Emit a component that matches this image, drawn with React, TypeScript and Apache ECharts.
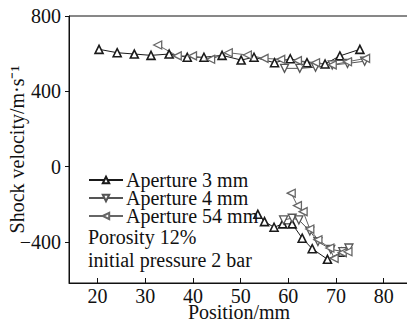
import React, { useEffect, useRef } from "react";
import * as echarts from "echarts";

const xTicks = [20, 30, 40, 50, 60, 70, 80];
const yTicks = [800, 400, 0, -400];

const a3UpperX = [20.3, 24.1, 27.7, 31.2, 35.0, 38.8, 42.3, 46.1, 50.1, 52.8, 57.1, 60.4, 63.9, 67.7, 70.8, 75.0];
const a3UpperY = [623, 605, 598, 591, 598, 581, 581, 591, 566, 581, 552, 573, 552, 545, 588, 623];
const a3LowerX = [53.6, 55.0, 57.0, 58.8, 60.8, 62.9, 65.0, 68.2, 71.2];
const a3LowerY = [-253, -292, -322, -304, -304, -380, -436, -492, -455];

const a4UpperX = [59.2, 62.4, 65.7, 69.2, 72.4, 76.0];
const a4UpperY = [522, 522, 528, 540, 548, 560];
const a4LowerX = [59.0, 60.8, 62.2, 64.5, 66.2, 68.9, 71.4, 72.7];
const a4LowerY = [-283, -274, -283, -342, -398, -439, -451, -432];

const a54UpperX = [32.6, 36.7, 39.9, 43.7, 47.4, 51.4, 54.9, 58.4, 61.9, 65.7, 69.2, 72.4, 76.2];
const a54UpperY = [646, 588, 588, 570, 605, 593, 575, 570, 563, 552, 540, 557, 575];
const a54LowerX = [60.6, 61.9, 63.1, 64.5, 66.2, 68.7, 69.6, 71.3, 72.5];
const a54LowerY = [-141, -207, -239, -331, -388, -432, -487, -457, -452];

const names = ["Aperture 3 mm", "Aperture 4 mm", "Aperture 54 mm"];
const notes = ["Porosity 12%", "initial pressure 2 bar"];

const FONT = "Liberation Serif";

const zip = (xs: number[], ys: number[]) => xs.map((x, i) => [x, ys[i]]);

export default function App() {
  const ref = useRef<HTMLDivElement>(null);
  useEffect(() => {
    if (!ref.current) return;
    const chart = echarts.init(ref.current, null, { renderer: "svg" });
    const mk = (name: string, data: number[][], color: string, rot: number, bw: number) => ({
      name,
      type: "line",
      data,
      symbol: "triangle",
      symbolSize: 8,
      symbolRotate: rot,
      lineStyle: { color, width: 1 },
      itemStyle: { color: "#fff", borderColor: color, borderWidth: bw },
      z: 3,
    });
    chart.setOption({
      animation: false,
      grid: {
        left: 69,
        top: 16,
        width: 340,
        height: 267,
        outerBoundsMode: "none",
        containLabel: false,
        show: true,
        borderColor: "#111",
        borderWidth: 1,
      },
      xAxis: {
        type: "value",
        min: 14,
        max: 85.3,
        name: "Position/mm",
        nameLocation: "middle",
        nameGap: 19,
        nameMoveOverlap: false,
        nameTextStyle: { fontFamily: FONT, fontSize: 20, color: "#111" },
        splitLine: { show: false },
        axisLine: { show: true, onZero: false, lineStyle: { color: "#111", width: 1 } },
        axisTick: { show: true, inside: true, length: 5, customValues: xTicks, lineStyle: { color: "#111" } },
        axisLabel: {
          customValues: xTicks,
          fontFamily: FONT,
          fontSize: 20,
          color: "#111",
          margin: 3,
        },
      },
      yAxis: {
        type: "value",
        min: -618,
        max: 800,
        name: "Shock velocity/m·s⁻¹",
        nameLocation: "middle",
        nameGap: 42,
        nameMoveOverlap: false,
        nameTextStyle: { fontFamily: FONT, fontSize: 20, color: "#111" },
        splitLine: { show: false },
        axisLine: { show: true, onZero: false, lineStyle: { color: "#111", width: 1 } },
        axisTick: { show: true, inside: false, length: 4, customValues: yTicks, lineStyle: { color: "#111" } },
        axisLabel: {
          customValues: yTicks,
          fontFamily: FONT,
          fontSize: 20,
          color: "#111",
          margin: 8,
          formatter: (v: number) => String(v).replace("-", "−"),
        },
      },
      legend: {
        orient: "vertical",
        left: 88,
        top: 170,
        padding: 0,
        itemWidth: 34,
        itemHeight: 8,
        itemGap: -2,
        data: names,
        textStyle: { fontFamily: FONT, fontSize: 20, color: "#111", padding: [0, 0, 0, -2] },
      },
      graphic: notes.map((t, i) => ({
        type: "text",
        left: 88,
        top: 227 + i * 23,
        style: { text: t, font: `20px "${FONT}"`, fill: "#111" },
      })),
      series: [
        mk(names[0], zip(a3UpperX, a3UpperY), "#1a1a1a", 0, 1.6),
        mk(names[0], zip(a3LowerX, a3LowerY), "#1a1a1a", 0, 1.6),
        mk(names[1], zip(a4UpperX, a4UpperY), "#555", 180, 1.3),
        mk(names[1], zip(a4LowerX, a4LowerY), "#555", 180, 1.3),
        mk(names[2], zip(a54UpperX, a54UpperY), "#666", 90, 1.3),
        mk(names[2], zip(a54LowerX, a54LowerY), "#666", 90, 1.3),
      ],
    });
    return () => chart.dispose();
  }, []);
  return (
    <div
      ref={ref}
      style={{ position: "fixed", left: 0, top: 0, width: 407, height: 323, background: "#fff" }}
    />
  );
}
